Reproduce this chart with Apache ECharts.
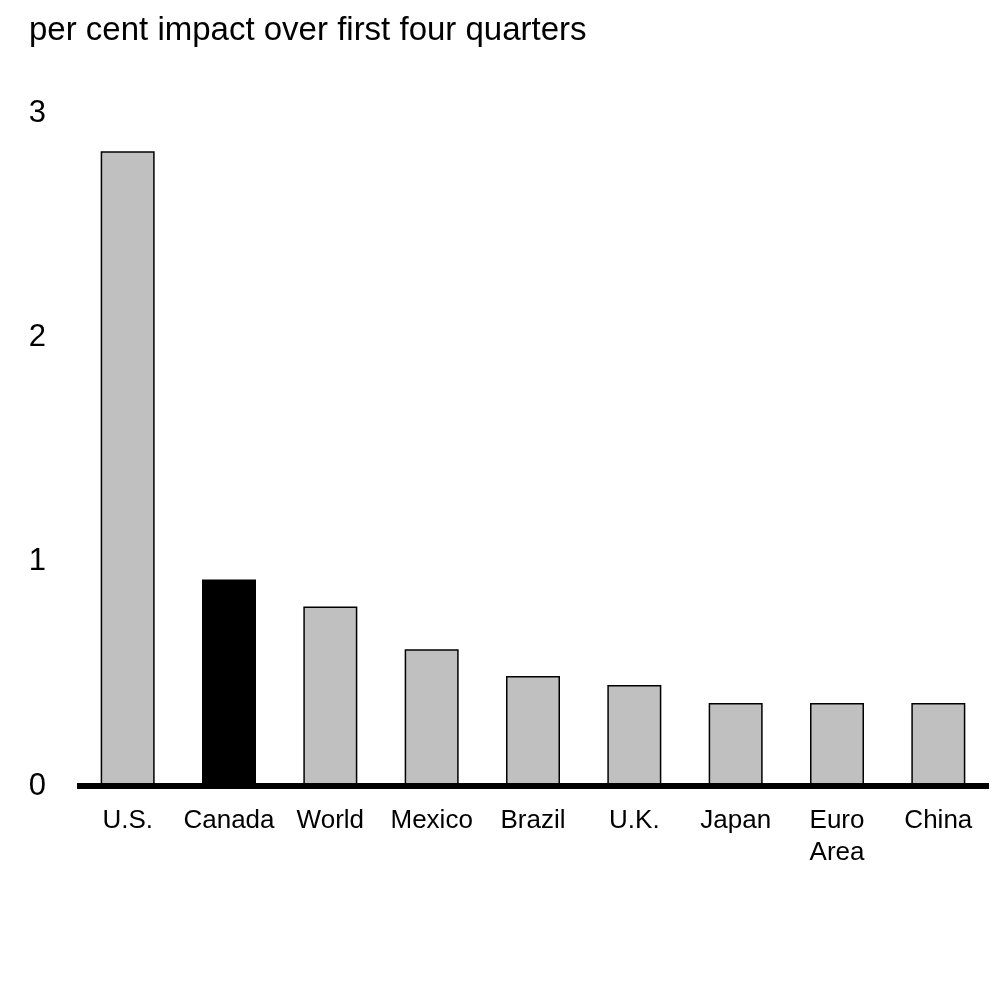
<!DOCTYPE html>
<html><head><meta charset="utf-8">
<script src="https://cdn.jsdelivr.net/npm/echarts@6/dist/echarts.min.js"></script>
<style>html,body{margin:0;padding:0;background:#fff}#c{width:1004px;height:1004px}</style>
</head><body><div id="c"></div>
<script>
const categories = ['U.S.', 'Canada', 'World', 'Mexico', 'Brazil', 'U.K.', 'Japan', 'Euro\nArea', 'China'];
const values = [2.83, 0.92, 0.80, 0.61, 0.49, 0.45, 0.37, 0.37, 0.37];
const highlight = 'Canada';
const yTicks = [0, 1, 2, 3];
const titleText = 'per cent impact over first four quarters';
const FONT = 'Liberation Sans, Arial, sans-serif';

const chart = echarts.init(document.getElementById('c'), null, {renderer: 'canvas'});
chart.setOption({
  animation: false,
  backgroundColor: '#fff',
  textStyle: {fontFamily: FONT},
  title: {
    text: titleText, left: 24, top: 9,
    textStyle: {fontFamily: FONT, fontSize: 33, fontWeight: 'normal', color: '#000'}
  },
  grid: {left: 77, right: 15, top: 113, bottom: 218, containLabel: false},
  xAxis: {
    type: 'category', data: categories, z: 5,
    axisLine: {show: true, lineStyle: {color: '#000', width: 6, cap: 'butt'}},
    axisTick: {show: false},
    axisLabel: {color: '#000', fontSize: 26, margin: 19, lineHeight: 32, interval: 0, fontFamily: FONT}
  },
  yAxis: {
    type: 'value', min: yTicks[0], max: yTicks[yTicks.length - 1], interval: 1,
    axisLine: {show: false}, axisTick: {show: false}, splitLine: {show: false},
    axisLabel: {color: '#000', fontSize: 31, margin: 31, fontFamily: FONT}
  },
  series: [{
    type: 'bar', barWidth: 54,
    data: values.map((v, i) => ({
      value: v,
      itemStyle: {color: categories[i] === highlight ? '#000' : '#c0c0c0', borderColor: '#000', borderWidth: 1.5}
    }))
  }]
});
</script></body></html>
